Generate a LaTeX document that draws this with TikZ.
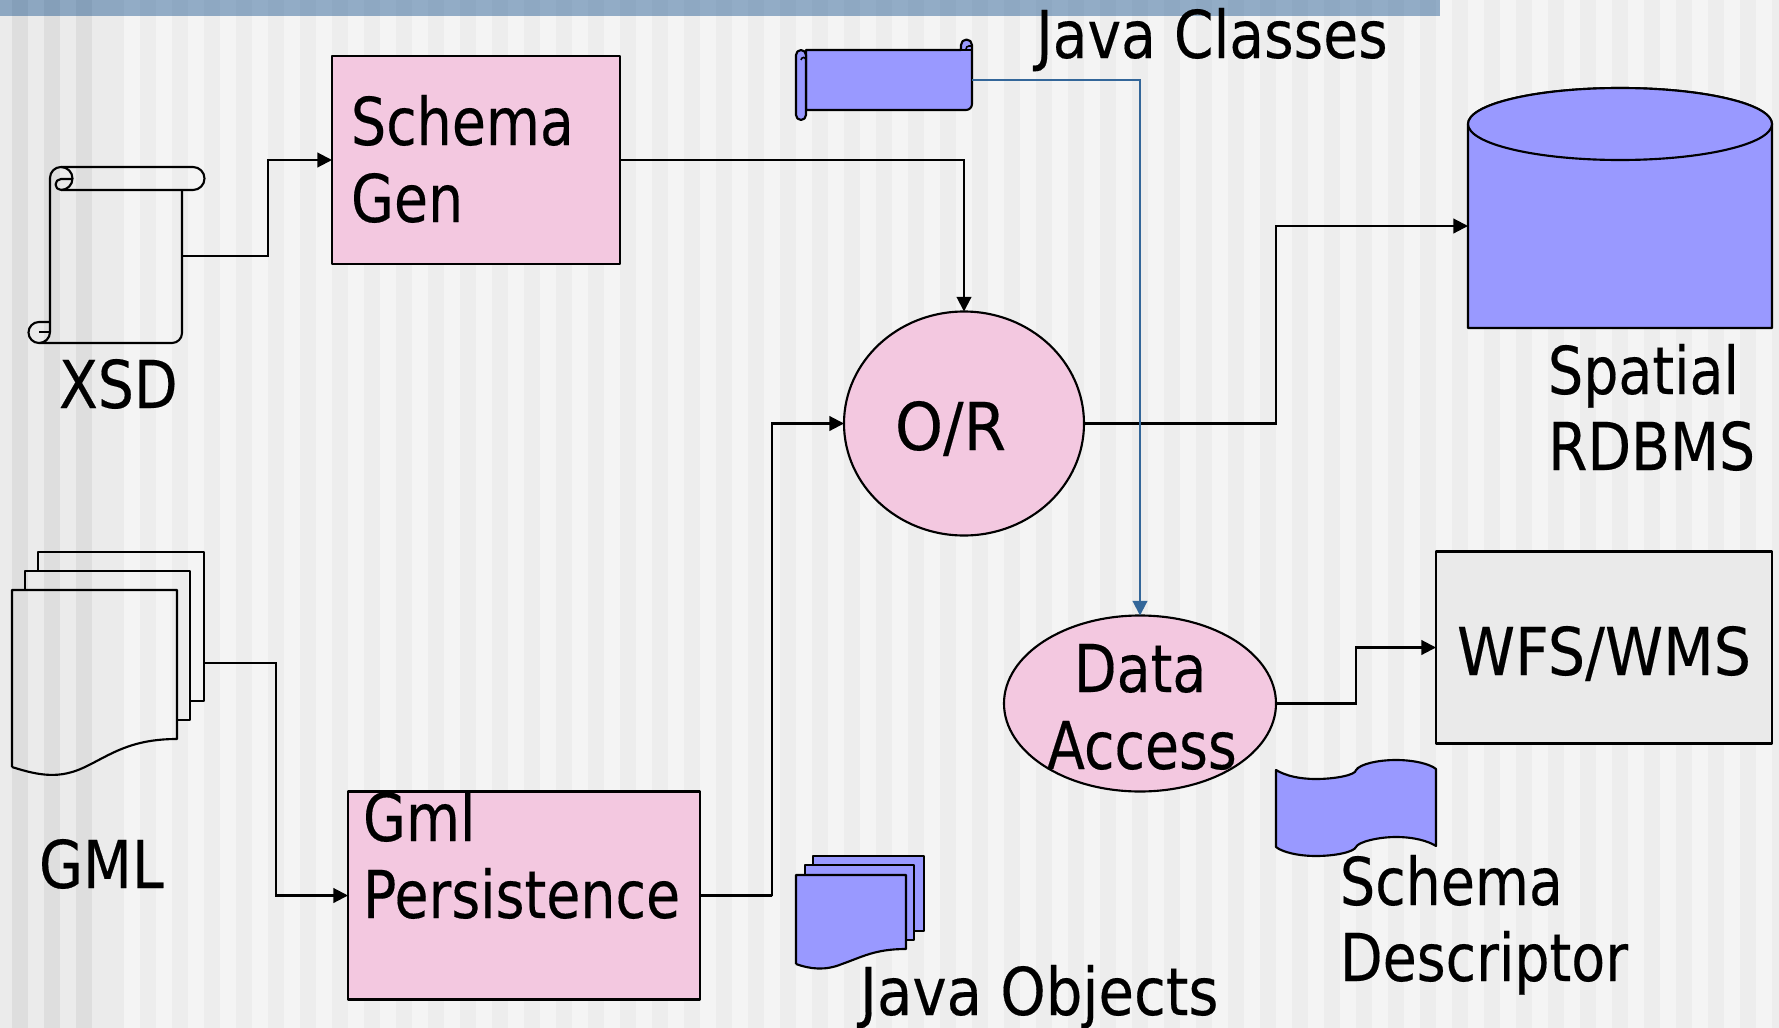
\documentclass[tikz,border=0pt]{standalone}
\usepackage{fontspec}
\setmainfont{DejaVu Sans}[FakeStretch=0.84,FakeBold=0.25]
\newfontfamily\fontcaps{DejaVu Sans}[FakeStretch=0.86,FakeBold=0.25]
\newfontfamily\fontobj{DejaVu Sans}[FakeStretch=0.875,FakeBold=0.25]
\newfontfamily\fontwfs{DejaVu Sans}[FakeStretch=0.89,FakeBold=0.25]
\newfontfamily\fontor{DejaVu Sans}[FakeStretch=0.925,FakeBold=0.25]
\usetikzlibrary{shapes.geometric,arrows.meta}
\definecolor{pinkfill}{HTML}{F3C8E0}
\definecolor{bluefill}{HTML}{9999FF}
\definecolor{greyfill}{HTML}{EAEAEA}
\definecolor{bluelink}{HTML}{336699}
\definecolor{barcol}{HTML}{004182}
\tikzset{
  ln/.style={draw=black,line width=1.6pt,line join=round},
  pinkbox/.style={ln,fill=pinkfill,rectangle,inner sep=0,outer sep=0},
  pinkoval/.style={ln,fill=pinkfill,ellipse,inner sep=0,outer sep=0},
  bluefig/.style={ln,fill=bluefill},
  paper/.style={ln,fill=none},
  conn/.style={draw=black,line width=1.6pt,-{Triangle[length=11pt,width=11pt]}},
  bluecon/.style={draw=bluelink,line width=1.6pt,-{Triangle[length=11pt,width=11pt]}},
  lab/.style={inner sep=0,outer sep=0,anchor=base west,align=left,text=black,
    font=\fontsize{49.5}{57.75}\selectfont},
}
\begin{document}
\begin{tikzpicture}[x=0.75pt,y=-0.75pt]
\useasboundingbox (0,0) rectangle (1779,1028);
% background
\fill[fill={rgb,255:red,235;green,235;blue,235}] (0,0) rectangle (124,1028);
\fill[fill={rgb,255:red,244;green,244;blue,244}] (124,0) rectangle (1779,1028);
\foreach \i in {0,1,2}{\fill[fill={rgb,255:red,222;green,222;blue,222}] ({12+32*\i},0) rectangle ({28+32*\i},1028);}
\foreach \i in {0,...,51}{\fill[fill={rgb,255:red,237;green,237;blue,237}] ({140+32*\i},0) rectangle ({156+32*\i},1028);}
\fill[barcol,opacity=.4] (0,0) rectangle (1440,16);

% process boxes
\node[pinkbox,minimum width=216pt,minimum height=156pt] (schemagen) at (476,160) {};
\node[pinkbox,minimum width=264pt,minimum height=156pt] (gmlp) at (524,895.5) {};
\node[pinkoval,minimum width=180pt,minimum height=168pt] (orm) at (964,423.5) {};
\node[pinkoval,minimum width=204pt,minimum height=132pt] (dataacc) at (1140,703.5) {};
\node[ln,fill=greyfill,rectangle,inner sep=0,outer sep=0,minimum width=252pt,minimum height=144pt] (wfs) at (1604,647.5) {};

% XSD scroll
\draw[paper] (50,178) -- (50,332) arc[start angle=0,end angle=90,radius=11] -- (172,343) arc[start angle=90,end angle=0,radius=10] -- (182,190);
\draw[paper] (50,178) arc[start angle=180,end angle=270,radius=11] -- (193,167) arc[start angle=-90,end angle=90,radius=11.5] -- (61,190);
\draw[paper] (61,167) arc[start angle=-90,end angle=90,radius=11.5];
\draw[paper] (72,179) -- (61,179) arc[start angle=-90,end angle=-270,radius=5.5];
\draw[paper] (50,322) -- (39,322) arc[start angle=-90,end angle=-270,radius=10.5];
\draw[paper] (50,332) -- (39,332);
\coordinate (xsdout) at (182,256);
\coordinate (xsdmid) at (268,256);

% Java classes scroll
\draw[bluefig] (806,50) -- (961,50) -- (961,45) arc[start angle=180,end angle=360,radius=5.5] -- (972,104) arc[start angle=0,end angle=90,radius=6] -- (806,110) -- cycle;
\draw[bluefig] (796,55) arc[start angle=180,end angle=360,radius=5] -- (806,115) arc[start angle=0,end angle=180,radius=5] -- cycle;
\draw[line width=1.2pt] (961,50) -- (972,50);
\draw[line width=1.2pt] (801,60) arc[start angle=180,end angle=360,radius=2.5];
\draw[line width=1.2pt] (966,49) arc[start angle=180,end angle=270,radius=3] -- (972,46);
\coordinate (javaout) at (972,80);

% GML stack
\draw[paper] (38,571) |- (204,552) |- (190,701);
\draw[paper] (25,590) |- (190,571) |- (177,720);
\draw[paper] (12,767) -- (12,590) -- (177,590) -- (177,739) .. controls (130,739) and (110,755) .. (85,767) .. controls (60,779) and (40,776) .. (12,767);
\coordinate (gmlout) at (204,663);
\coordinate (gmlmid) at (276,663);

% Java objects stack
\draw[bluefig] (813,856) -- (924,856) -- (924,931) -- (813,931) -- cycle;
\draw[bluefig] (805,865) -- (914,865) -- (914,940) -- (805,940) -- cycle;
\draw[bluefig] (796,964) -- (796,875) -- (906,875) -- (906,949) .. controls (875,949) and (862,957) .. (842,964) .. controls (825,971) and (810,969) .. (796,964);

% Schema descriptor wave
\draw[bluefig] (1276,770) .. controls (1286,776) and (1300,779) .. (1316,779) .. controls (1335,779) and (1356,775) .. (1356,770)
  .. controls (1360,764) and (1378,760) .. (1396,760) .. controls (1414,760) and (1430,764) .. (1436,769)
  -- (1436,846) .. controls (1428,841) and (1414,837) .. (1396,837) .. controls (1378,837) and (1358,842) .. (1356,847)
  .. controls (1354,852) and (1335,856) .. (1316,856) .. controls (1298,856) and (1282,852) .. (1276,847) -- cycle;

% Spatial RDBMS cylinder
\draw[bluefig] (1468,124) -- (1468,328) -- (1772,328) -- (1772,124) arc[start angle=0,end angle=-180,x radius=152,y radius=36];
\draw[bluefig] (1620,124) ellipse[x radius=152,y radius=36];
\coordinate (rdbmsin) at (1468,226);

% connectors
\coordinate (ormid) at (1276,423);
\coordinate (gmlpmid) at (772,896);
\coordinate (damid) at (1356,703);
\draw[conn] (xsdout) -| (xsdmid) |- (schemagen.west);
\draw[conn] (schemagen.east) -| (orm.north);
\draw[conn] (gmlout) -| (gmlmid) |- (gmlp.west);
\draw[conn] (gmlp.east) -| (gmlpmid) |- (orm.west);
\draw[conn] (orm.east) -| (ormid) |- (rdbmsin);
\draw[conn] (dataacc.east) -| (damid) |- (wfs.west);
\draw[bluecon] (javaout) -| (dataacc.north);

% labels
\node[lab] (tjc) at (1036,58) {\fontcaps Java Classes};
\node[lab] (tsg) at (351,145) {Schema};
\node[lab] (tsg2) at (351,222) {Gen};
\node[lab] (txsd) at (59,408) {\fontcaps XSD};
\node[lab] (tgml) at (39,888) {\fontcaps GML};
\node[lab] (tgp) at (363,841) {Gml};
\node[lab] (tgp2) at (363,918) {Persistence};
\node[lab] (tor) at (895,450) {\fontor O/R};
\node[lab] (tsr) at (1548,394) {Spatial};
\node[lab] (tsr2) at (1548,470) {\fontcaps RDBMS};
\node[lab] (tda) at (1074,692) {Data};
\node[lab] (tda2) at (1047,769) {Access};
\node[lab] (twf) at (1457,675) {\fontwfs WFS/WMS};
\node[lab] (tsd) at (1340,905) {Schema};
\node[lab] (tsd2) at (1340,981) {Descriptor};
\node[lab] (tjo) at (860,1015) {\fontobj Java Objects};
\end{tikzpicture}
\end{document}
